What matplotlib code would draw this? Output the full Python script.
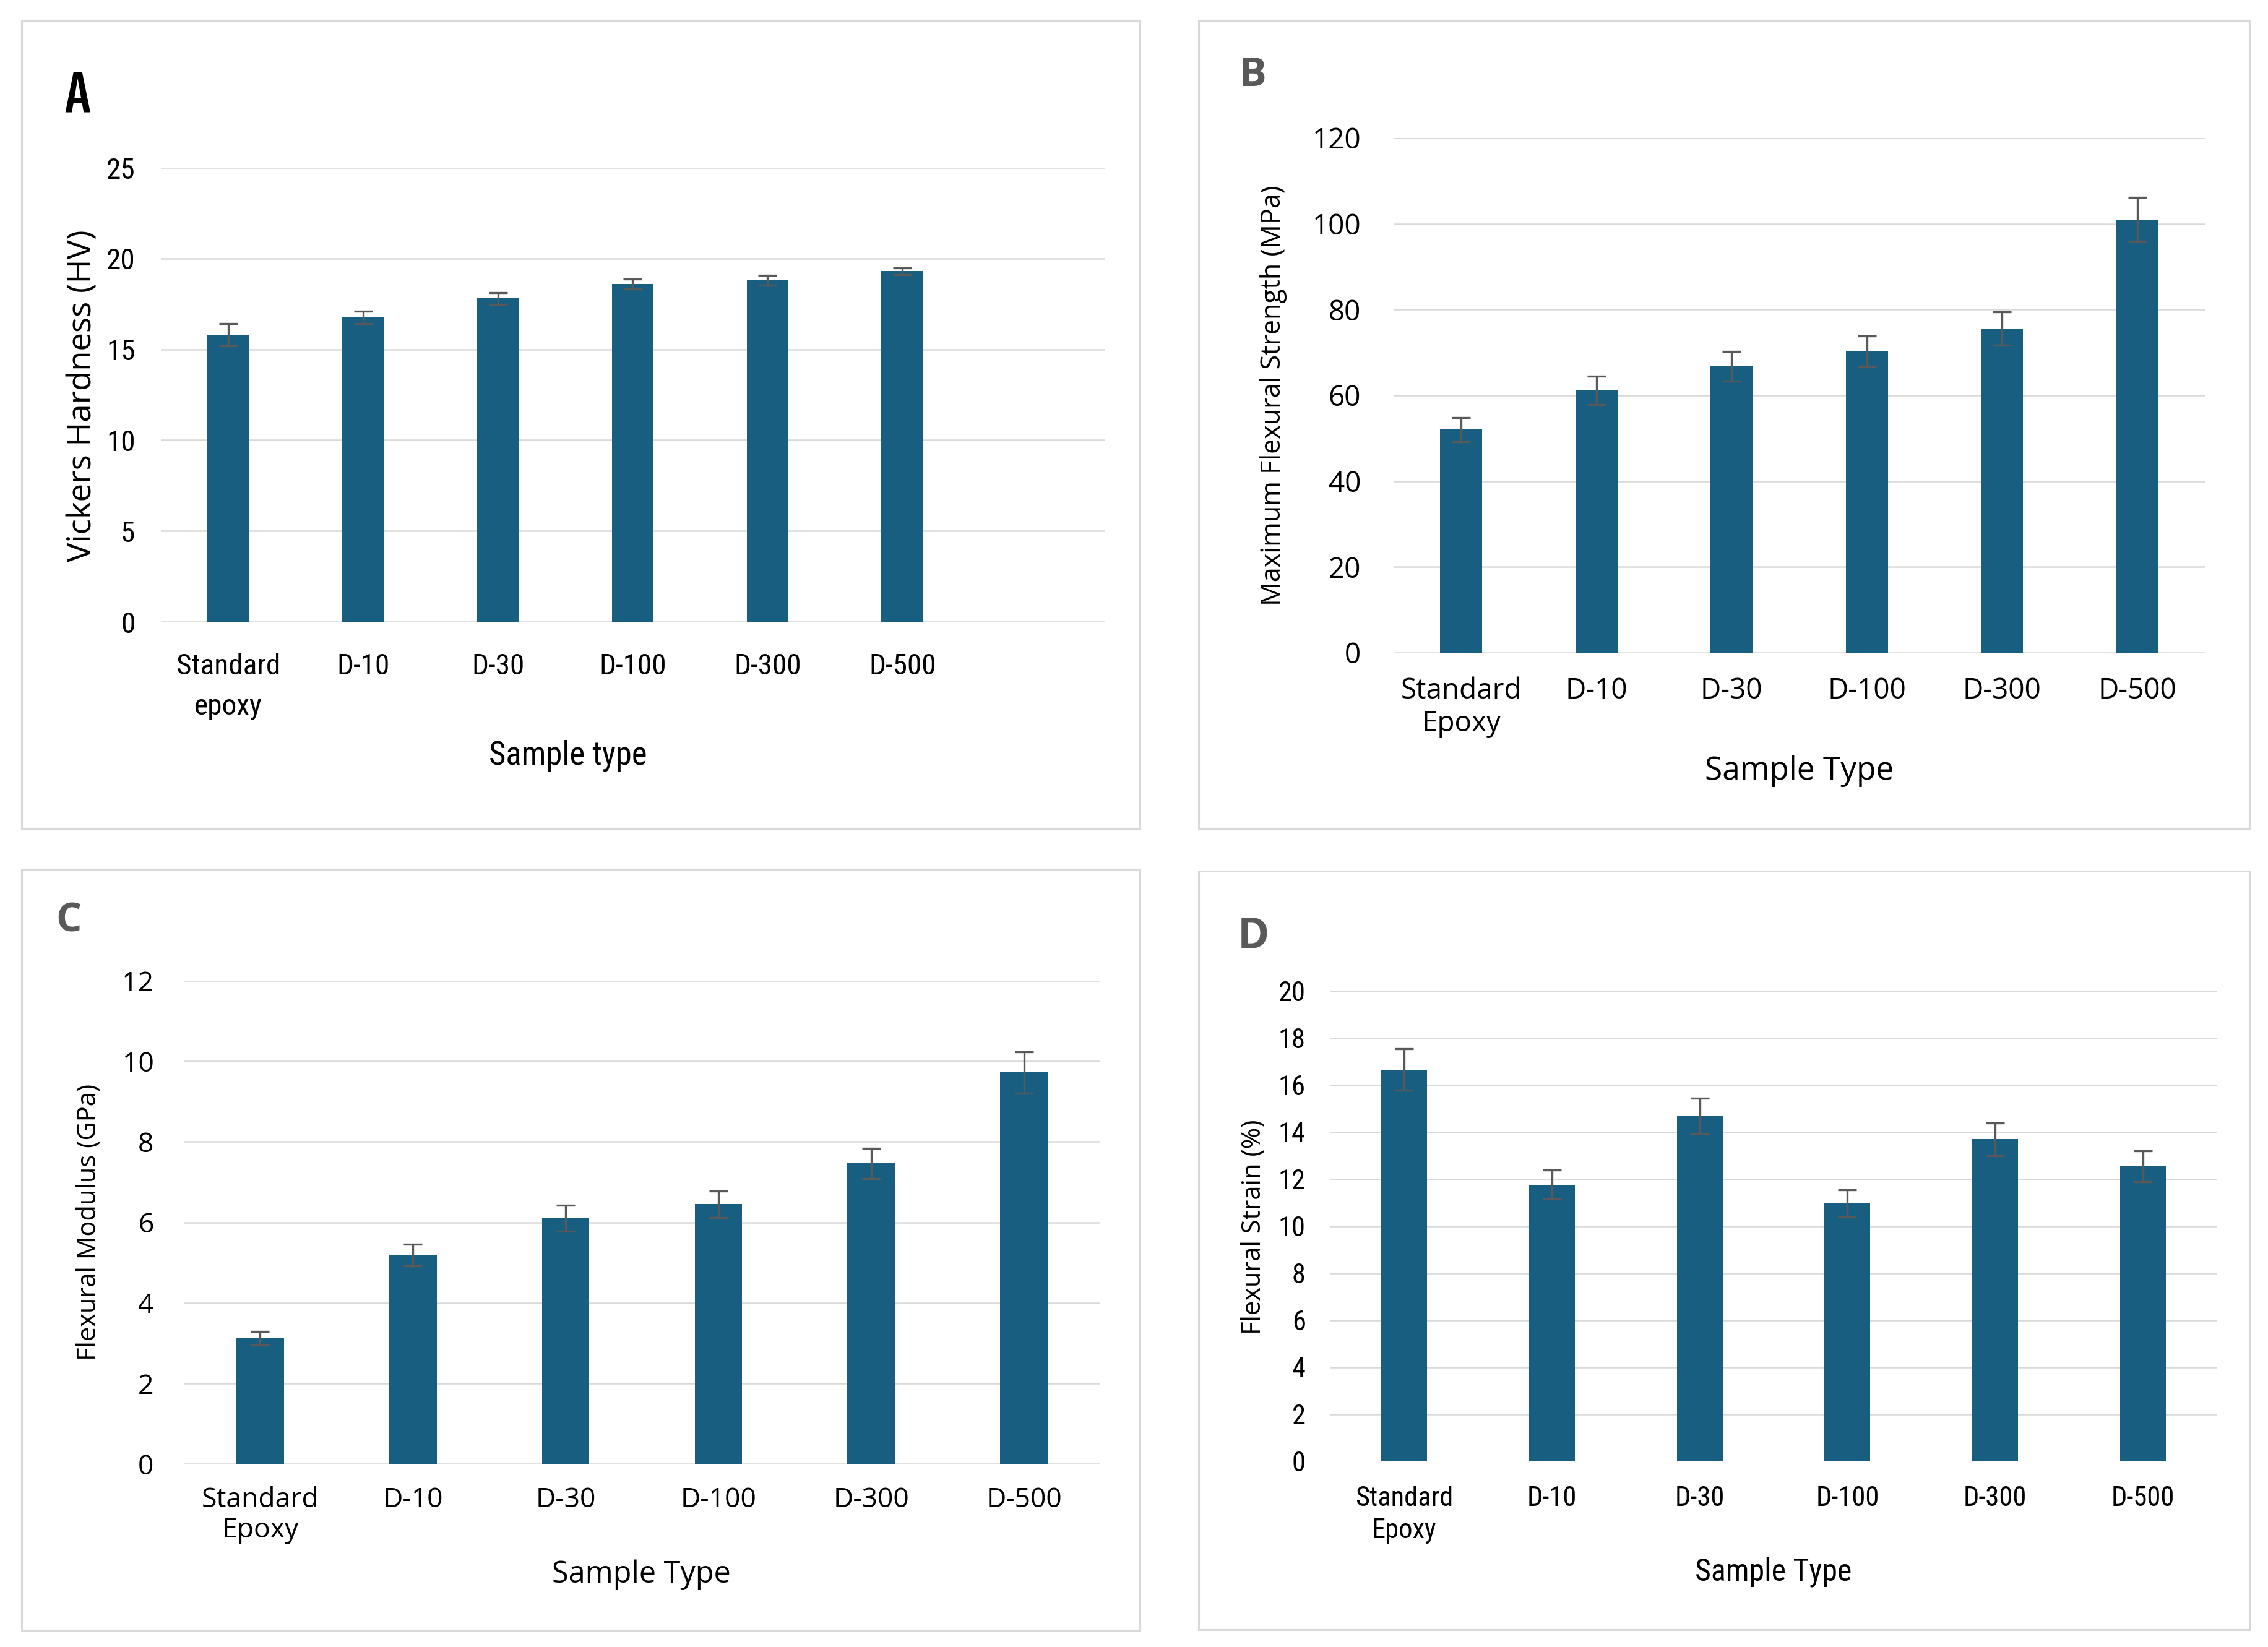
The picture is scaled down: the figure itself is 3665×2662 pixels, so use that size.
import matplotlib
matplotlib.use("Agg")
import matplotlib.pyplot as plt
from matplotlib.patches import Rectangle

W, H = 3666, 2662
DPI = 100

# ---------------- data ----------------
cats_a = ["Standard\nepoxy", "D-10", "D-30", "D-100", "D-300", "D-500"]
cats = ["Standard\nEpoxy", "D-10", "D-30", "D-100", "D-300", "D-500"]

hardness = [15.8, 16.75, 17.8, 18.6, 18.8, 19.3]
hardness_err = [0.6, 0.35, 0.32, 0.26, 0.28, 0.18]

strength = [52.0, 61.2, 66.8, 70.3, 75.6, 101.0]
strength_err = [2.8, 3.3, 3.5, 3.6, 3.9, 5.1]

modulus = [3.12, 5.19, 6.10, 6.45, 7.46, 9.72]
modulus_err = [0.17, 0.27, 0.32, 0.33, 0.38, 0.52]

strain = [16.66, 11.77, 14.70, 10.97, 13.70, 12.56]
strain_err = [0.88, 0.62, 0.75, 0.58, 0.70, 0.66]

BAR = "#175E81"
ERR = "#595959"
GRID = "#D9D9D9"
NARROW = ["Roboto Condensed", "Sofia Sans Semi Condensed", "DejaVu Sans"]
BOLDNARROW = ["Special Gothic Condensed One", "DejaVu Sans"]
WIDE = ["Open Sans", "DejaVu Sans"]

fig = plt.figure(figsize=(W / DPI, H / DPI), dpi=DPI)


def fx(x):
    return x / W


def fy(y):
    return 1 - y / H


def panel_box(x0, y0, x1, y1):
    fig.patches.append(Rectangle((fx(x0), fy(y1)), fx(x1 - x0), (y1 - y0) / H,
                                 transform=fig.transFigure, fill=False,
                                 edgecolor=GRID, linewidth=2.2, zorder=0))


def make_axes(x0, x1, ytop, ybot):
    return fig.add_axes([fx(x0), fy(ybot), fx(x1 - x0), (ybot - ytop) / H])


def draw(ax, labels, vals, errs, nslots, ymax, ystep, tickfont, tfs, ypad, xpad,
         xlabel, xlfont, xlfs, xlpos, ylabel, ylfont, ylfs, ylpos, linesp):
    x = list(range(len(vals)))
    ax.bar(x, vals, width=0.31, color=BAR, zorder=2)
    ax.errorbar(x, vals, yerr=errs, fmt="none", ecolor=ERR, elinewidth=2.4,
                capsize=10.5, capthick=2.4, zorder=3)
    ax.set_xlim(-0.5, nslots - 0.5)
    ax.set_ylim(0, ymax)
    ax.set_yticks(range(0, ymax + 1, ystep))
    ax.set_xticks(x)
    ax.set_xticklabels(labels, family=tickfont, fontsize=tfs, linespacing=linesp)
    for t in ax.get_yticklabels():
        t.set_family(tickfont)
        t.set_fontsize(tfs)
    ax.tick_params(axis="both", length=0, colors="black")
    ax.tick_params(axis="y", pad=ypad)
    ax.tick_params(axis="x", pad=xpad)
    ax.grid(axis="y", color=GRID, linewidth=1.8)
    ax.set_axisbelow(True)
    for s in ax.spines.values():
        s.set_visible(False)
    ax.set_xlabel(xlabel, family=xlfont, fontsize=xlfs, va="center")
    ax.xaxis.set_label_coords(fx(xlpos[0]), fy(xlpos[1]), transform=fig.transFigure)
    ax.set_ylabel(ylabel, family=ylfont, fontsize=ylfs, va="center")
    ax.yaxis.set_label_coords(fx(ylpos[0]), fy(ylpos[1]), transform=fig.transFigure)


# panel frames
panel_box(35, 33, 1842, 1340)
panel_box(1937, 33, 3635, 1340)
panel_box(35, 1405, 1842, 2635)
panel_box(1937, 1408, 3635, 2634)

# A
axA = make_axes(260, 1785, 271, 1005)
draw(axA, cats_a, hardness, hardness_err, 7, 25, 5, NARROW, 34, 30, 36,
     "Sample type", NARROW, 38, (918, 1221), "Vickers Hardness (HV)", WIDE, 38,
     (134, 640), 1.6)
fig.text(fx(104), fy(182), "A", family=BOLDNARROW, fontweight="bold", fontsize=66,
         color="black", ha="left", va="baseline")

# B
axB = make_axes(2252, 3563, 223, 1055)
draw(axB, cats, strength, strength_err, 6, 120, 20, WIDE, 33, 38, 28,
     "Sample Type", WIDE, 37, (2908, 1246), "Maximum Flexural Strength (MPa)", WIDE, 31,
     (2058, 639), 1.2)
fig.text(fx(2002), fy(139), "B", family=WIDE, fontweight="bold", fontsize=47,
         color="#595959", ha="left", va="baseline")

# C
axC = make_axes(297, 1778, 1585, 2366)
draw(axC, cats, modulus, modulus_err, 6, 12, 2, WIDE, 32, 35, 26,
     "Sample Type", WIDE, 35, (1036, 2545), "Flexural Modulus (GPa)", WIDE, 30,
     (144, 1975), 1.15)
fig.text(fx(90), fy(1506), "C", family=WIDE, fontweight="bold", fontsize=47,
         color="#595959", ha="left", va="baseline")

# D
axD = make_axes(2150, 3582, 1602, 2362)
draw(axD, cats, strain, strain_err, 6, 20, 2, NARROW, 32, 29, 28,
     "Sample Type", NARROW, 36, (2866, 2541), "Flexural Strain (%)", WIDE, 30,
     (2026, 1983), 1.3)
fig.text(fx(2000), fy(1533), "D", family=WIDE, fontweight="bold", fontsize=50,
         color="#595959", ha="left", va="baseline")

fig.savefig("out.png", dpi=DPI, facecolor="white")
